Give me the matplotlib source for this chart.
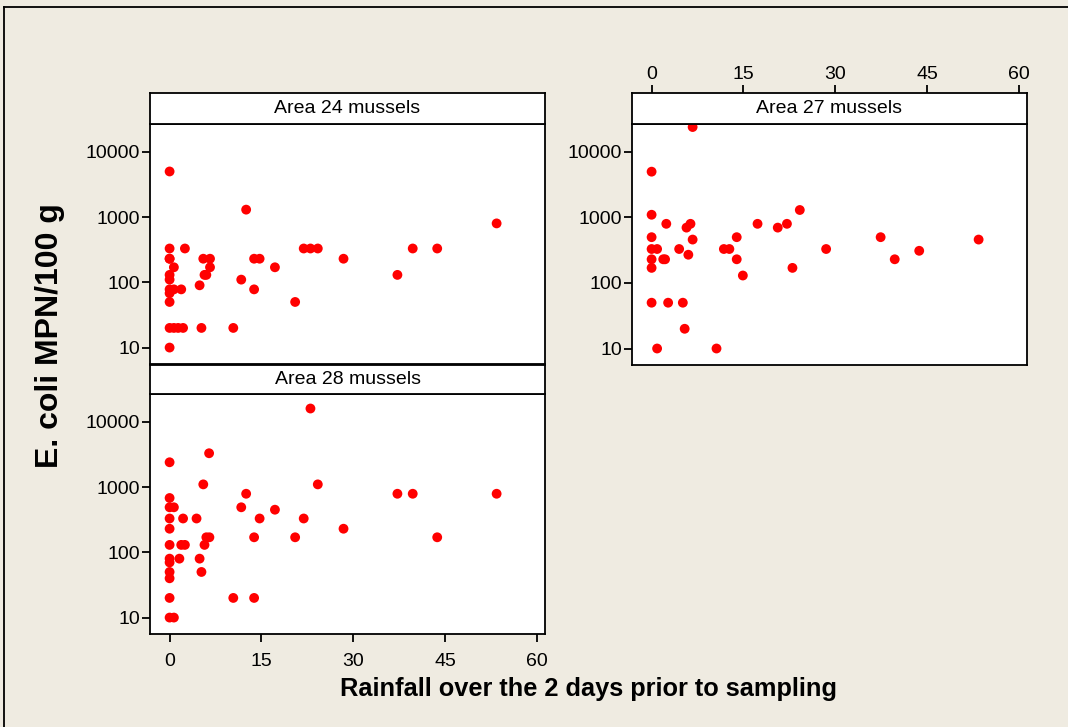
import matplotlib
matplotlib.use('Agg')
import matplotlib.pyplot as plt
from matplotlib.lines import Line2D

# rainfall (mm, 2 days before sampling) and E. coli result per area
x24 = [0, 12.5, 53.4,
       0, 2.5, 21.9, 23.0, 24.2, 39.7, 43.7,
       0, 0, 5.5, 6.6, 13.8, 14.7, 28.4,
       0.7, 6.6, 17.2,
       0, 5.7, 6.0, 37.2,
       0, 11.7,
       4.9,
       0, 0.7, 1.9, 13.8,
       0,
       0, 20.5,
       0, 0.7, 1.4, 2.2, 5.2, 10.4,
       0]
y24 = [5000, 1300, 800,
       330, 330, 330, 330, 330, 330, 330,
       230, 230, 230, 230, 230, 230, 230,
       170, 170, 170,
       130, 130, 130, 130,
       110, 110,
       90,
       78, 78, 78, 78,
       68,
       50, 50,
       20, 20, 20, 20, 20, 20,
       10]

x27 = [6.7, 0, 0, 2.4, 6.35, 5.7, 17.3, 20.6, 22.1, 24.2, 0, 13.9, 37.4, 6.7,
       53.4, 0, 0.9, 4.5, 11.8, 12.7, 28.5, 43.7, 6.0, 0, 1.9, 2.2, 13.9, 39.7,
       0, 23.0, 14.9, 0, 2.7, 5.1, 5.4, 0.9, 10.6]
y27 = [24000, 5000, 1100, 800, 800, 700, 800, 700, 800, 1300, 500, 500, 500, 460,
       460, 330, 330, 330, 330, 330, 330, 310, 270, 230, 230, 230, 230, 230,
       170, 170, 130, 50, 50, 50, 20, 10, 10]

x28 = [23.0, 6.45, 0, 5.5, 24.2, 0, 12.5, 37.2, 39.7, 53.4, 0, 0.7, 11.7, 17.2,
       0, 2.2, 4.4, 14.7, 21.9, 0, 28.4, 6.0, 6.5, 13.8, 20.5, 43.7, 0, 1.9,
       2.5, 5.7, 0, 1.6, 4.9, 0, 0, 5.2, 0, 0, 10.4, 13.8, 0, 0.7]
y28 = [16000, 3300, 2400, 1100, 1100, 680, 790, 790, 790, 790, 490, 490, 490, 450,
       330, 330, 330, 330, 330, 230, 230, 170, 170, 170, 170, 170, 130, 130,
       130, 130, 80, 80, 80, 70, 50, 50, 40, 20, 20, 20, 10, 10]

xticks = [0, 15, 30, 45, 60]
yticks = [10, 100, 1000, 10000]
ytick_labels = ['10', '100', '1000', '10000']

W, H = 1068, 727
bg = '#efebe1'
tickfont = ['Liberation Sans', 'DejaVu Sans']
XLIM = (-3.2, 61.3)

fig = plt.figure(figsize=(W / 100, H / 100), dpi=100, facecolor=bg)


def box(x0, y0, x1, y1):
    # pixel box (top-left origin) -> figure fraction rect
    return [x0 / W, 1 - y1 / H, (x1 - x0) / W, (y1 - y0) / H]


def style_ticks(ax):
    ax.tick_params(direction='out', length=6, width=1.3, labelsize=14, pad=1)
    ax.tick_params(axis='x', pad=8)
    for lab in ax.get_xticklabels() + ax.get_yticklabels():
        lab.set_family(tickfont)
    for sp in ax.spines.values():
        sp.set_linewidth(1.3)


def panel(px, py_strip, py_top, py_bot, title, xs, ys, xpos):
    ax = fig.add_axes(box(px[0], py_top, px[1], py_bot))
    ax.set_facecolor('white')
    ax.scatter(xs, ys, s=50, color='#ff0000', edgecolors='none', zorder=3, clip_on=False)
    ax.set_yscale('log')
    ax.set_xlim(*XLIM)
    ax.set_ylim(5.6, 26700)
    ax.minorticks_off()
    ax.set_yticks(yticks)
    ax.set_yticklabels(ytick_labels)
    ax.set_xticks(xticks)
    ax.set_xticklabels([str(t) for t in xticks])
    if xpos != 'bottom':
        ax.tick_params(axis='x', bottom=False, labelbottom=False)
    style_ticks(ax)

    st = fig.add_axes(box(px[0], py_strip, px[1], py_top))
    st.set_facecolor('white')
    st.set_xlim(*XLIM)
    st.set_yticks([])
    if xpos == 'top':
        st.set_xticks(xticks)
        st.set_xticklabels([str(t) for t in xticks])
        st.xaxis.set_ticks_position('top')
    else:
        st.set_xticks([])
    style_ticks(st)
    st.tick_params(axis='x', pad=1.5)
    st.text(0.5, 0.5, title, ha='center', va='center', fontsize=14,
            family=tickfont, transform=st.transAxes)
    return ax


panel((150, 545), 93, 124, 364, 'Area 24 mussels', x24, y24, None)
panel((150, 545), 365, 394, 634, 'Area 28 mussels', x28, y28, 'bottom')
panel((632, 1027), 93, 124, 365, 'Area 27 mussels', x27, y27, 'top')

fig.text(588 / W, 1 - 689 / H, 'Rainfall over the 2 days prior to sampling',
         ha='center', va='center', fontsize=18.3, fontweight='bold', family=tickfont)
fig.text(50 / W, 1 - 336 / H, 'E. coli MPN/100 g', rotation=90,
         ha='center', va='center', fontsize=23, fontweight='bold', family=tickfont)

# outer frame (only top and left edges fall inside the image)
fig.add_artist(Line2D([4 / W, 1], [1 - 6.5 / H, 1 - 6.5 / H], color='black', lw=1.3))
fig.add_artist(Line2D([4 / W, 4 / W], [0, 1 - 6.5 / H], color='black', lw=1.3))

fig.savefig('out.png', dpi=100, facecolor=bg)
